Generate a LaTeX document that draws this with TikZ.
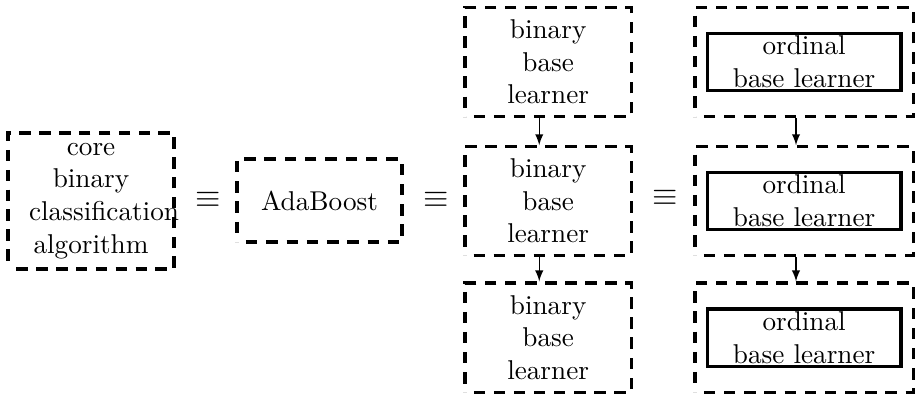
\documentclass[tikz,border=0pt]{standalone}
\usepackage{tikz}
\usetikzlibrary{decorations}

\tikzset{
  dashbox/.style={draw, very thick, dash pattern=on 4.2pt off 3pt, dash expand off, align=center, text width=1.6cm, minimum width=2.145cm},
  ordbox/.style={draw, very thick, align=center, inner ysep=1pt, minimum width=2.5cm},
  equiv/.style={font=\large}
}

\begin{document}
\begin{tikzpicture}
   \useasboundingbox (0,0) rectangle (11.82,-5.078);

   \node[dashbox, minimum height=1.757cm] (core) at (1.176,-2.597) {core\\ binary\\ classification\\ algorithm};
   \node[equiv] (eq1) at (2.688,-2.584) {$\equiv$};
   \node[dashbox, minimum width=2.132cm, minimum height=1.072cm] (ada) at (4.128,-2.591) {AdaBoost};
   \node[equiv] (eq2) at (5.633,-2.584) {$\equiv$};

   \node[dashbox, minimum height=1.41cm] (bin1) at (7.081,-0.801) {binary\\ base\\ learner};
   \node[dashbox, minimum height=1.40cm] (bin2) at (7.081,-2.597) {binary\\ base\\ learner};
   \node[dashbox, minimum height=1.41cm] (bin3) at (7.081,-4.361) {binary\\ base\\ learner};
   \node[equiv] (eq3) at (8.592,-2.558) {$\equiv$};

   \node[dashbox, minimum width=2.817cm, minimum height=1.41cm] (ord1) at (10.388,-0.801) {};
   \node[dashbox, minimum width=2.817cm, minimum height=1.40cm] (ord2) at (10.388,-2.597) {};
   \node[dashbox, minimum width=2.817cm, minimum height=1.41cm] (ord3) at (10.388,-4.361) {};
   \node[ordbox] (in1) at (ord1) {ordinal\\ base learner};
   \node[ordbox] (in2) at (ord2) {ordinal\\ base learner};
   \node[ordbox] (in3) at (ord3) {ordinal\\ base learner};

   \draw[-latex] ([xshift=-0.115cm]bin1.south) -- ([xshift=-0.115cm]bin2.north);
   \draw[-latex] ([xshift=-0.115cm]bin2.south) -- ([xshift=-0.115cm]bin3.north);
   \draw[-latex] ([xshift=-0.105cm]ord1.south) -- ([xshift=-0.105cm]ord2.north);
   \draw[-latex] ([xshift=-0.105cm]ord2.south) -- ([xshift=-0.105cm]ord3.north);
  \end{tikzpicture}
\end{document}
